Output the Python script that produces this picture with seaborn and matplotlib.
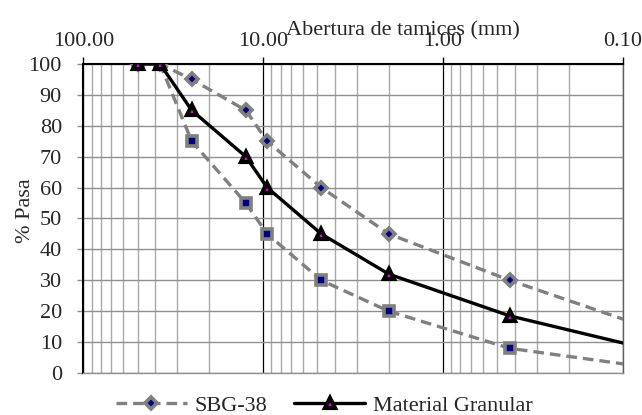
import matplotlib
matplotlib.use("Agg")
import matplotlib.pyplot as plt
import seaborn as sns
import pandas as pd
from matplotlib.ticker import LogLocator, FixedLocator, FuncFormatter, NullFormatter
from matplotlib.lines import Line2D

# ---- data ----
sieve_mm = [50, 37.5, 25, 12.5, 9.5, 4.75, 2.0, 0.425, 0.075]
sbg_upper = [100, 100, 95, 85, 75, 60, 45, 30, 15]
sbg_lower = [100, 100, 75, 55, 45, 30, 20, 8, 2]
material = [100, 100, 85, 70, 60, 45, 32, 18.5, 8]
x_ticks = [100, 10, 1, 0.1]
y_ticks = [0, 10, 20, 30, 40, 50, 60, 70, 80, 90, 100]

sns.set_theme(style="white")
plt.rcParams['font.family'] = ['Liberation Serif', 'DejaVu Serif']

FS = 16

fig, ax = plt.subplots(figsize=(6.42, 4.15), dpi=100)
fig.subplots_adjust(left=0.130, right=0.970, top=0.846, bottom=0.101)

df = pd.DataFrame({"mm": sieve_mm, "upper": sbg_upper, "lower": sbg_lower, "mat": material})

dash = (0, (3.2, 1.8))
gray = "#808080"
navy = "#000080"
sns.lineplot(data=df, x="mm", y="upper", ax=ax, color=gray, linewidth=2.4,
             linestyle=dash, marker="D", markersize=6.5, markerfacecolor=navy,
             markeredgecolor=gray, markeredgewidth=2.6, zorder=3)
sns.lineplot(data=df, x="mm", y="lower", ax=ax, color=gray, linewidth=2.4,
             linestyle=dash, marker="s", markersize=6.5, markerfacecolor=navy,
             markeredgecolor=gray, markeredgewidth=2.6, zorder=3)
sns.lineplot(data=df, x="mm", y="mat", ax=ax, color="black", linewidth=2.4,
             marker="^", markersize=7, markerfacecolor="#ff00ff",
             markeredgecolor="black", markeredgewidth=3, zorder=4)

ax.set_xscale("log")
ax.set_xlim(100, 0.1)
ax.set_ylim(0, 100)

ax.xaxis.set_major_locator(FixedLocator(x_ticks))
ax.xaxis.set_major_formatter(FuncFormatter(lambda v, p: f"{v:.2f}"))
ax.xaxis.set_minor_locator(LogLocator(base=10, subs=range(2, 10), numticks=20))
ax.xaxis.set_minor_formatter(NullFormatter())
ax.set_yticks(y_ticks)

ax.xaxis.tick_top()
ax.xaxis.set_label_position("top")

ax.grid(which="major", axis="x", color="black", linewidth=0.9, zorder=0)
ax.grid(which="minor", axis="x", color="#a8a8a8", linewidth=1.0, zorder=0)
ax.grid(which="major", axis="y", color="#909090", linewidth=1.0, zorder=0)
ax.set_axisbelow(True)

ax.tick_params(axis="x", which="major", top=True, bottom=False, direction="out",
               length=5, width=1, color="black", labelsize=FS, pad=4)
ax.tick_params(axis="x", which="minor", top=False, bottom=False, length=0)
ax.tick_params(axis="y", which="major", left=True, direction="out", length=4.5,
               width=1, color="#909090", labelsize=FS, pad=11)

for s in ["top", "left"]:
    ax.spines[s].set_color("black")
    ax.spines[s].set_linewidth(1.5)
ax.spines["right"].set_color("#606060")
ax.spines["right"].set_linewidth(1.0)
ax.spines["bottom"].set_color("#909090")
ax.spines["bottom"].set_linewidth(1.0)

ax.set_ylabel("% Pasa", fontsize=FS)
ax.yaxis.set_label_coords((26 - 83.6) / 539.4, 0.527)
ax.yaxis.label.set_va("center")
ax.set_xlabel("Abertura de tamices (mm)", fontsize=FS)
ax.xaxis.set_label_coords((403 - 83.6) / 539.4, 1.108)
ax.xaxis.label.set_va("center")

leg = ax.get_legend()
if leg is not None:
    leg.remove()

handles = [
    Line2D([], [], color=gray, linewidth=2.4, linestyle=dash, marker="D",
           markersize=6.5, markerfacecolor=navy, markeredgecolor=gray,
           markeredgewidth=2.6),
    Line2D([], [], color="black", linewidth=2.4, marker="^", markersize=7,
           markerfacecolor="#ff00ff", markeredgecolor="black", markeredgewidth=3),
]
fig.legend(handles, ["SBG-38", "Material Granular"], loc="center",
           bbox_to_anchor=(0.505, 0.022), ncol=2, frameon=False, fontsize=FS,
           handlelength=3.2, handletextpad=0.35, columnspacing=1.2)

fig.savefig("out.png", dpi=100)
